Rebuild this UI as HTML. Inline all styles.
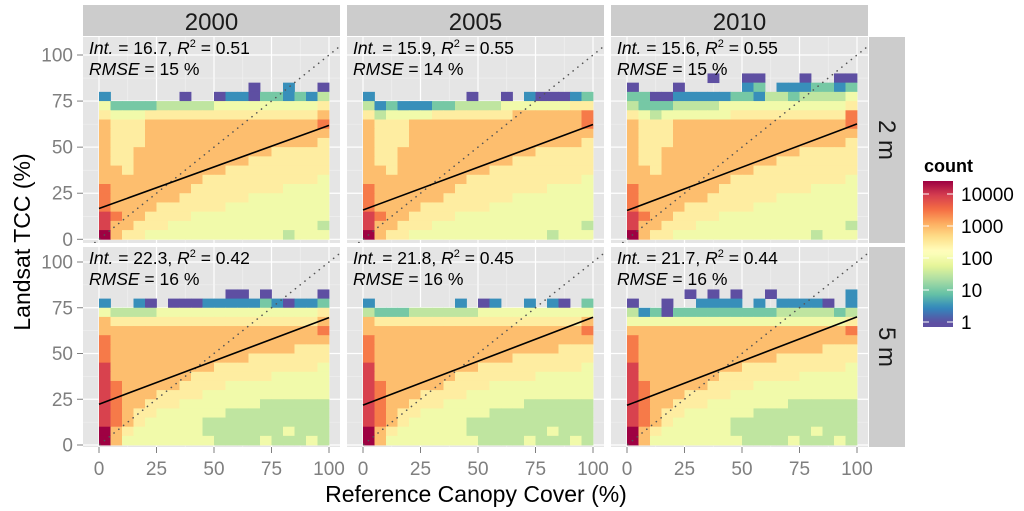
<!DOCTYPE html>
<html><head><meta charset="utf-8"><style>
html,body{margin:0;padding:0;background:#fff}
svg{display:block;font-family:"Liberation Sans",sans-serif}
</style></head><body>
<svg id="chart" width="1024" height="511" viewBox="0 0 1024 511" xmlns="http://www.w3.org/2000/svg"></svg>
<script>
const years = ["2000","2005","2010"];
const resolutions = ["2 m","5 m"];
const intercepts = [[16.7,15.9,15.6],[22.3,21.8,21.7]];
const fitAt100 = [[61.8,62.3,62.6],[69.6,69.8,70.0]];
const r2Values = [["0.51","0.55","0.55"],["0.42","0.45","0.44"]];
const rmseValues = [["15","14","15"],["16","16","16"]];
const xTicks = [0,25,50,75,100];
const yTicks = [0,25,50,75,100];
const legendTicks = [1,10,100,1000,10000];
// grid cell level chars: log10(count) = level*0.49 ; rows listed from top bin to bottom bin (0-5)
const body2m = ["65556666666666666667","65556666666666666666","65556666666666666665","65566666666666655555","65566666666665555555","66566666666555555555","66666666655555555554","76666666555555554444","76666665555554444444","76666555555444444444","87665555444444444444","86655544444444444443","96554444444444443444"];
const body5m = ["66666666666666666667","76666666666666666666","76666666666666666555","76666666666665555555","86666666665555555554","86666666555555544444","87666665555444444444","87666555544444444444","87665554444444333333","87655444444333333333","87654444433333333333","96544444433333334333","96444444443333433343"];
const top2000_2m = [".............0..1..0","1......0..0110221213","42222333334444444445","54445555555555555556"];
const top2005_2m = ["1........0..0.100012","31211122333344444455","53444455555556666667"];
const top2010_2m = [".......0..00...0..00","0...0.....12.1112212","22001111122133233334","32223333444444444445","54344444455555555557"];
const top2000_5m = ["...........00.0....0","1..10.00011111210112","43333444444444444445","65555555555555555556"];
const top2005_5m = ["1.......1.01..1.10.2","32223333334444444444","65555555555555555556"];
const top2010_5m = [".....0.0.0..0......1","0..0..1111.1.11110.1","31202222222223333323","44444444444444444445"];
const topRows = [[top2000_2m,top2005_2m,top2010_2m],[top2000_5m,top2005_5m,top2010_5m]];
const bodies = [body2m, body5m];

const NS="http://www.w3.org/2000/svg";
const svg=document.getElementById('chart');
function mk(tag,attrs,parent){const e=document.createElementNS(NS,tag);for(const k in attrs)e.setAttribute(k,attrs[k]);(parent||svg).appendChild(e);return e;}
const spectral=["#5E4FA2","#3288BD","#66C2A5","#ABDDA4","#E6F598","#FFFFBF","#FEE08B","#FDAE61","#F46D43","#D53E4F","#9E0142"];
const LMAX=4.4;
function hex(h){return [parseInt(h.slice(1,3),16),parseInt(h.slice(3,5),16),parseInt(h.slice(5,7),16)];}
function colorFor(l){let t=Math.max(0,Math.min(1,l/LMAX))*(spectral.length-1);let i=Math.min(Math.floor(t),spectral.length-2);let f=t-i;const a=hex(spectral[i]),b=hex(spectral[i+1]);return `rgb(${a.map((v,k)=>Math.round(v+(b[k]-v)*f)).join(',')})`;}

const panelLeft=[83,347,611], panelW=257;
const panelTop=[37,247], panelBot=[243,447];
const yZero=[239.3,445], ky=[1.843,1.83], kx=2.3;
function xs(c,v){return panelLeft[c]+16+v*kx;}
function ys(r,v){return yZero[r]-v*ky[r];}

for(let c=0;c<3;c++){
  const s=mk('rect',{x:panelLeft[c],y:5,width:panelW,height:31,fill:'#cccccc'});
  
  const t=mk('text',{x:panelLeft[c]+panelW/2,y:30,'font-size':24,'text-anchor':'middle',fill:'#1a1a1a'});t.textContent=years[c];
  
}
for(let r=0;r<2;r++){
  const s=mk('rect',{x:869,y:panelTop[r],width:36,height:panelBot[r]-panelTop[r],fill:'#cccccc'});
  
  const cy=(panelTop[r]+panelBot[r])/2;
  const t=mk('text',{x:887,y:cy,'font-size':24,'text-anchor':'middle',fill:'#1a1a1a',transform:`rotate(90 887 ${cy})`,dy:8});t.textContent=resolutions[r];
  
}

for(let r=0;r<2;r++){
  for(let c=0;c<3;c++){
    const g=mk('g',{});
    
    
    const L=panelLeft[c],T=panelTop[r],B=panelBot[r];
    mk('rect',{x:L,y:T,width:panelW,height:B-T,fill:'#e5e5e5'},g);
    const clip=mk('clipPath',{id:`clip${r}${c}`},g);mk('rect',{x:L,y:T,width:panelW,height:B-T},clip);
    const inner=mk('g',{'clip-path':`url(#clip${r}${c})`},g);
    for(let v=-12.5;v<=112.5;v+=12.5){
      const major=(v%25===0);
      mk('line',{x1:xs(c,v),x2:xs(c,v),y1:T,y2:B,stroke:major?'#ffffff':'#f2f2f2','stroke-width':major?1.2:0.6},inner);
      mk('line',{y1:ys(r,v),y2:ys(r,v),x1:L,x2:L+panelW,stroke:major?'#ffffff':'#f2f2f2','stroke-width':major?1.2:0.6},inner);
    }
    const rows=topRows[r][c].concat(bodies[r]);
    const n=rows.length;
    for(let i=0;i<n;i++){
      const bin=n-1-i;
      for(let j=0;j<20;j++){
        const ch=rows[i][j];
        if(ch==='.')continue;
        const lvl=parseInt(ch)*0.49;
        const x1=xs(c,j*5),x2=xs(c,j*5+5),y1=ys(r,bin*5+5),y2=ys(r,bin*5);
        const cell=mk('rect',{x:x1,y:y1,width:x2-x1+0.4,height:y2-y1+0.4,fill:colorFor(lvl)},inner);
        
        
      }
    }
    const oneToOne=mk('line',{x1:xs(c,-8),y1:ys(r,-8),x2:xs(c,112),y2:ys(r,112),stroke:'#555','stroke-width':1.6,'stroke-dasharray':'0.1 6','stroke-linecap':'round'},inner);
    
    const fit=mk('line',{x1:xs(c,0),y1:ys(r,intercepts[r][c]),x2:xs(c,100),y2:ys(r,fitAt100[r][c]),stroke:'#000','stroke-width':1.6},inner);
    
    const t1=mk('text',{x:L+6,y:T+17,'font-size':17.5,fill:'#000'},g);
    t1.innerHTML=`<tspan font-style="italic">Int.</tspan> = ${intercepts[r][c].toFixed(1)},  <tspan font-style="italic">R</tspan><tspan font-size="11" dy="-7">2</tspan><tspan dy="7"> = ${r2Values[r][c]}</tspan>`;
    
    const t2=mk('text',{x:L+6,y:T+38,'font-size':17.5,fill:'#000'},g);
    t2.innerHTML=`<tspan font-style="italic">RMSE</tspan> = ${rmseValues[r][c]} %`;
    
  }
  for(const v of yTicks){
    const y=ys(r,v);
    mk('line',{x1:77,x2:83,y1:y,y2:y,stroke:'#7f7f7f','stroke-width':1});
    const t=mk('text',{x:73,y:y+6.5,'font-size':19,'text-anchor':'end',fill:'#7f7f7f'});t.textContent=v;
    
  }
}
for(let c=0;c<3;c++){
  for(const v of xTicks){
    const x=xs(c,v);
    mk('line',{x1:x,x2:x,y1:447,y2:453,stroke:'#7f7f7f','stroke-width':1});
    const t=mk('text',{x:x,y:475,'font-size':19,'text-anchor':'middle',fill:'#7f7f7f'});t.textContent=v;
    
  }
}
const xt=mk('text',{x:476,y:502,'font-size':23,'text-anchor':'middle',fill:'#000'});xt.textContent='Reference Canopy Cover (%)';

const yt=mk('text',{x:30,y:242,'font-size':23,'text-anchor':'middle',fill:'#000',transform:'rotate(-90 30 242)'});yt.textContent='Landsat TCC (%)';


// legend
const lg=mk('g',{});
const lt=mk('text',{x:924,y:172,'font-size':18,'font-weight':'bold',fill:'#000'},lg);lt.textContent='count';

const defs=mk('defs',{},lg);
const grad=mk('linearGradient',{id:'cbar',x1:0,y1:1,x2:0,y2:0},defs);
const barTop=181,barBot=327,ly0=322,lk=32;
for(let k=0;k<=40;k++){const l=(ly0-barBot+ (barBot-barTop)*k/40)/lk;mk('stop',{offset:k/40,'stop-color':colorFor(Math.max(0,l))},grad);}
const cb=mk('rect',{x:923,y:barTop,width:30,height:barBot-barTop,fill:'url(#cbar)'},lg);

for(const v of legendTicks){
  const y=ly0-Math.log10(v)*lk;
  mk('line',{x1:923,x2:929,y1:y,y2:y,stroke:'#fff','stroke-width':1},lg);
  mk('line',{x1:947,x2:953,y1:y,y2:y,stroke:'#fff','stroke-width':1},lg);
  const t=mk('text',{x:961,y:y+7,'font-size':19,fill:'#000'},lg);t.textContent=v;
  
}
</script>
</body></html>
